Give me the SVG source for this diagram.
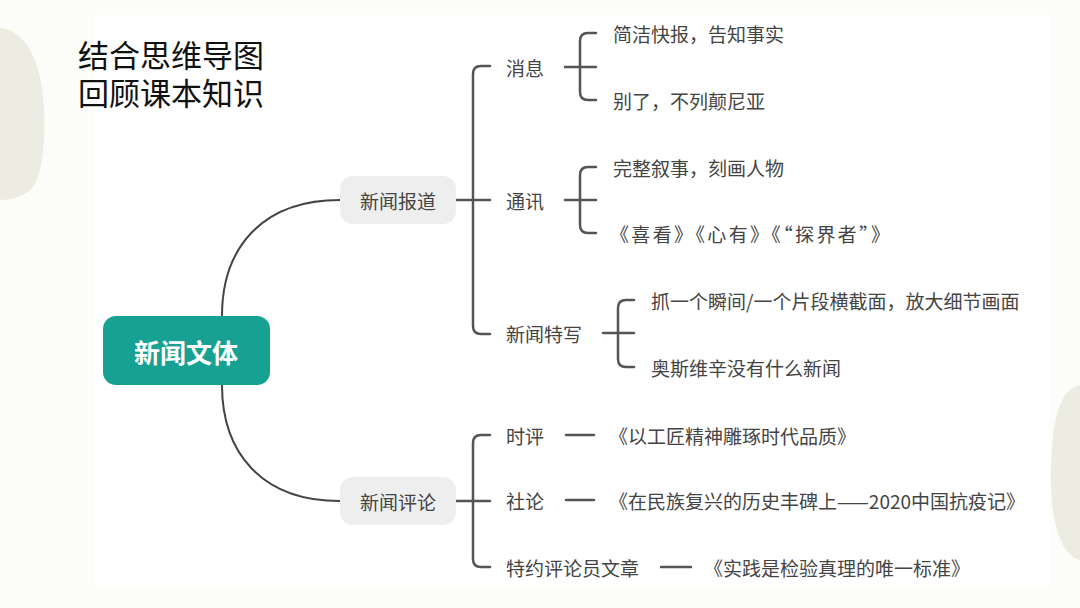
<svg xmlns="http://www.w3.org/2000/svg" width="1080" height="608" viewBox="0 0 1080 608">
<style>
.t{font-family:"Noto Sans CJK SC","Noto Sans",sans-serif;fill:#444;font-size:19px;dominant-baseline:central}
.title{font-family:"Noto Sans CJK SC","Noto Sans",sans-serif;fill:#111;font-size:31px}
.ln{fill:none;stroke:#555;stroke-width:2.5;stroke-linecap:round}
.curve{fill:none;stroke:#444;stroke-width:2}
.sub{fill:#eeeeee}
</style>
<rect width="1080" height="608" fill="#fcfcf8"/>
<rect x="95" y="15" width="955" height="572" fill="#ffffff"/>
<path d="M0,28 C25,30 42,60 44,110 C46,150 40,185 28,192 C20,197 10,200 0,200 Z" fill="#ecece2"/>
<path d="M1080,385 C1060,388 1052,420 1051,470 C1050,520 1060,555 1080,560 Z" fill="#ecece2"/>
<g id="title">
<text class="title" x="78" y="67">结合思维导图<tspan x="78" dy="38">回顾课本知识</tspan></text>
</g>
<g id="connectors">
<path class="curve" d="M222,316 C222,250 260,200 340,200"/>
<path class="curve" d="M222,385 C222,451 260,501 340,501"/>
<path class="ln" d="M456,200 H490 M490,66 H481 Q473,66 473,74 V326 Q473,334 481,334 H490"/>
<path class="ln" d="M456,501 H490 M490,435 H481 Q473,435 473,443 V559 Q473,567 481,567 H490"/>
<path class="ln" d="M565,67 H596 M596,33 H588 Q580,33 580,41 V92 Q580,100 588,100 H596"/>
<path class="ln" d="M565,200 H596 M596,167 H588 Q580,167 580,175 V225 Q580,233 588,233 H596"/>
<path class="ln" d="M603,333 H634 M634,300 H626 Q618,300 618,308 V359 Q618,367 626,367 H634"/>
<path class="ln" d="M566,435 H594"/>
<path class="ln" d="M566,500 H594"/>
<path class="ln" d="M661,567 H691"/>
</g>
<g id="root">
<rect x="103" y="316" width="167" height="69" rx="13" fill="#16a192"/>
<text x="186" y="351" text-anchor="middle" style="font-family:'Noto Sans CJK SC','Noto Sans',sans-serif;font-size:26px;font-weight:bold;fill:#fff;dominant-baseline:central">新闻文体</text>
</g>
<g id="n-baodao">
<rect class="sub" x="340" y="176" width="116" height="48" rx="13"/>
<text class="t" x="398" y="200" text-anchor="middle">新闻报道</text>
</g>
<g id="n-pinglun">
<rect class="sub" x="340" y="477" width="116" height="48" rx="13"/>
<text class="t" x="398" y="501" text-anchor="middle">新闻评论</text>
</g>
<g id="n-xiaoxi"><text class="t" x="506" y="67">消息</text></g>
<g id="n-tongxun"><text class="t" x="506" y="200">通讯</text></g>
<g id="n-texie"><text class="t" x="506" y="333">新闻特写</text></g>
<g id="n-x1"><text class="t" x="613" y="33">简洁快报，告知事实</text></g>
<g id="n-x2"><text class="t" x="613" y="100">别了，不列颠尼亚</text></g>
<g id="n-t1"><text class="t" x="613" y="167">完整叙事，刻画人物</text></g>
<g id="n-t2"><text class="t" x="610" y="233" textLength="280" lengthAdjust="spacing">《喜看》《心有》《“探界者”》</text></g>
<g id="n-s1"><text class="t" x="651" y="300">抓一个瞬间/一个片段横截面，放大细节画面</text></g>
<g id="n-s2"><text class="t" x="651" y="367">奥斯维辛没有什么新闻</text></g>
<g id="n-shiping"><text class="t" x="506" y="435">时评</text></g>
<g id="n-shelun"><text class="t" x="506" y="500">社论</text></g>
<g id="n-teyue"><text class="t" x="506" y="567">特约评论员文章</text></g>
<g id="n-p1"><text class="t" x="609" y="435">《以工匠精神雕琢时代品质》</text></g>
<g id="n-p2"><text class="t" x="609" y="500">《在民族复兴的历史丰碑上——2020中国抗疫记》</text></g>
<g id="n-p3"><text class="t" x="704" y="567">《实践是检验真理的唯一标准》</text></g>
</svg>
